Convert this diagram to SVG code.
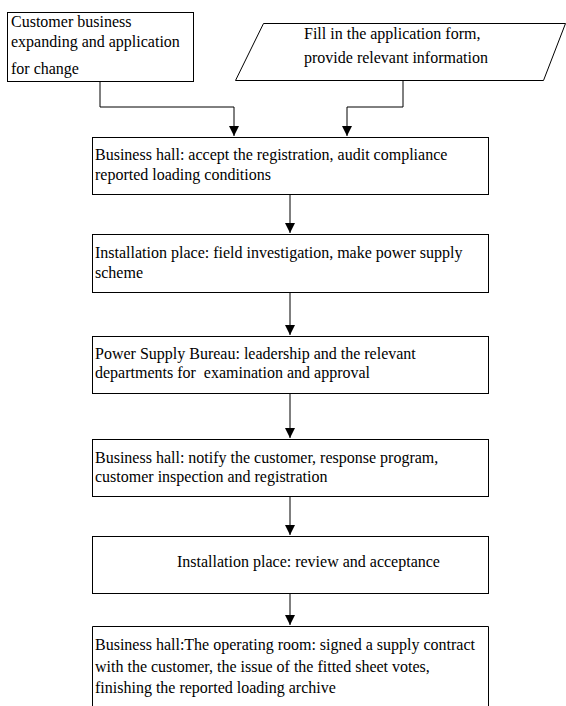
<svg xmlns="http://www.w3.org/2000/svg" width="566" height="706" viewBox="0 0 566 706">
<defs>
<style>
.box{fill:#fff;stroke:#000;stroke-width:1}
.t{font-family:"Liberation Serif","Times New Roman",serif;font-size:16px;fill:#000}
.c{fill:none;stroke:#000;stroke-width:1}
</style>
<marker id="ah" markerWidth="10" markerHeight="12" refX="10" refY="5" orient="auto" markerUnits="userSpaceOnUse" viewBox="0 0 10 10">
<path d="M0,0 L10,5 L0,10 Z" fill="#000"/>
</marker>
</defs>
<rect width="566" height="706" fill="#fff"/>
<g id="connectors">
<path class="c" d="M100,81 V107 H234 V136" marker-end="url(#ah)"/>
<path class="c" d="M403,80 V107 H347 V136" marker-end="url(#ah)"/>
<path class="c" d="M290,194 V233" marker-end="url(#ah)"/>
<path class="c" d="M290,292 V335" marker-end="url(#ah)"/>
<path class="c" d="M290,393 V438" marker-end="url(#ah)"/>
<path class="c" d="M290,496 V535" marker-end="url(#ah)"/>
<path class="c" d="M290,593 V625" marker-end="url(#ah)"/>
</g>
<g id="n1">
<rect class="box" x="7.5" y="12.5" width="186" height="69"/>
<text class="t" x="11" y="27">Customer business</text>
<text class="t" x="11" y="47">expanding and application</text>
<text class="t" x="11" y="74">for change</text>
</g>
<g id="n2">
<polygon class="box" points="263.5,23.5 565.5,23.5 543.5,80.5 235.5,80.5"/>
<text class="t" x="304" y="39">Fill in the application form,</text>
<text class="t" x="304" y="63">provide relevant information</text>
</g>
<g id="n3">
<rect class="box" x="92.5" y="137.5" width="396" height="57"/>
<text class="t" x="95" y="160">Business hall: accept the registration, audit compliance</text>
<text class="t" x="95" y="180">reported loading conditions</text>
</g>
<g id="n4">
<rect class="box" x="92.5" y="234.5" width="396" height="58"/>
<text class="t" x="95" y="258">Installation place: field investigation, make power supply</text>
<text class="t" x="95" y="278">scheme</text>
</g>
<g id="n5">
<rect class="box" x="92.5" y="336.5" width="396" height="57"/>
<text class="t" x="95" y="359">Power Supply Bureau: leadership and the relevant</text>
<text class="t" x="95" y="378" xml:space="preserve">departments for  examination and approval</text>
</g>
<g id="n6">
<rect class="box" x="92.5" y="439.5" width="396" height="57"/>
<text class="t" x="95" y="463">Business hall: notify the customer, response program,</text>
<text class="t" x="95" y="482">customer inspection and registration</text>
</g>
<g id="n7">
<rect class="box" x="92.5" y="536.5" width="396" height="57"/>
<text class="t" x="177" y="567">Installation place: review and acceptance</text>
</g>
<g id="n8">
<path class="box" d="M92.5,710 V626.5 H488.5 V710"/>
<text class="t" x="95" y="650">Business hall:The operating room: signed a supply contract</text>
<text class="t" x="95" y="672">with the customer, the issue of the fitted sheet votes,</text>
<text class="t" x="95" y="693">finishing the reported loading archive</text>
</g>
</svg>
